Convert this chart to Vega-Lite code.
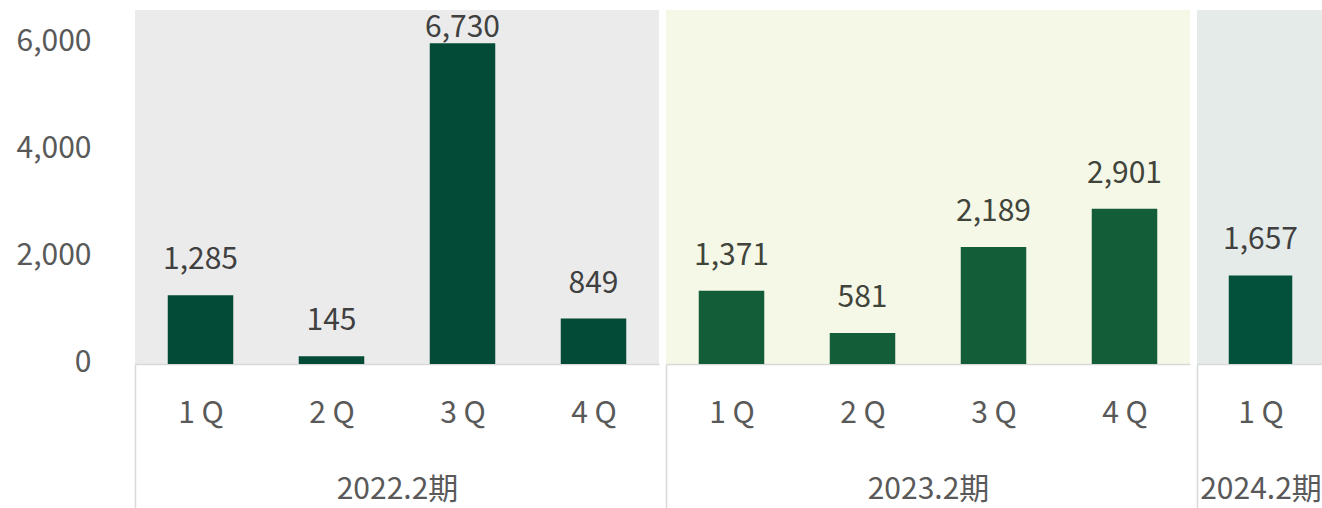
{
  "$schema": "https://vega.github.io/schema/vega-lite/v6.json",
  "padding": {"left": 16, "top": 10, "right": 0, "bottom": 0},
  "autosize": {"type": "pad"},
  "background": "white",
  "spacing": 6,
  "datasets": {
    "sales": [
      {"period": "2022.2期", "quarter": "1 Q", "bar": 1285, "label": 1285},
      {"period": "2022.2期", "quarter": "2 Q", "bar": 145, "label": 145},
      {"period": "2022.2期", "quarter": "3 Q", "bar": 6000, "label": 6730},
      {"period": "2022.2期", "quarter": "4 Q", "bar": 849, "label": 849},
      {"period": "2023.2期", "quarter": "1 Q", "bar": 1371, "label": 1371},
      {"period": "2023.2期", "quarter": "2 Q", "bar": 581, "label": 581},
      {"period": "2023.2期", "quarter": "3 Q", "bar": 2189, "label": 2189},
      {"period": "2023.2期", "quarter": "4 Q", "bar": 2901, "label": 2901},
      {"period": "2024.2期", "quarter": "1 Q", "bar": 1657, "label": 1657}
    ]
  },
  "config": {
    "font": "Noto Sans CJK JP, sans-serif",
    "axis": {"grid": false}
  },
  "hconcat": [
    {
      "width": 524,
      "height": 354,
      "view": {"fill": "#ebebeb", "stroke": null},
      "data": {"name": "sales"},
      "transform": [{"filter": "datum.period === '2022.2期'"}],
      "encoding": {
        "x": {
          "field": "quarter", "type": "nominal", "sort": null,
          "scale": {"paddingInner": 0.5, "paddingOuter": 0.25},
          "axis": {
            "title": "2022.2期", "titleFontSize": 30, "titleColor": "#595959", "titleFontWeight": "normal",
            "titleFont": "Noto Sans CJK JP, sans-serif",
            "titlePadding": 40, "minExtent": 70, "maxExtent": 70,
            "labelAngle": 0, "labelFontSize": 30, "labelColor": "#595959", "labelPadding": -110,
            "labelFont": "Noto Sans CJK JP, sans-serif", "labelOffset": 65.5,
            "domainColor": "#d9d9d9", "domainWidth": 1.5,
            "ticks": true, "tickSize": 144, "tickColor": "#d9d9d9", "tickWidth": 1.5, "tickOffset": -65.5,
            "tickOpacity": {"condition": {"test": "datum.value === '1 Q'", "value": 1}, "value": 0}
          }
        }
      },
      "layer": [
        {
          "mark": {"type": "bar", "color": "#034b36"},
          "encoding": {
            "y": {
              "field": "bar", "type": "quantitative",
              "scale": {"domain": [0, 6620], "nice": false},
              "axis": {
                "title": null, "values": [0, 2000, 4000, 6000], "format": ",.0f",
                "ticks": false, "domain": false, "grid": false,
                "labelFontSize": 30, "labelColor": "#595959", "labelPadding": 44, "labelOffset": -2,
                "labelFont": "Noto Sans CJK JP, sans-serif"
              }
            }
          }
        },
        {
          "mark": {
            "type": "text", "fontSize": 30, "color": "#404040", "baseline": "alphabetic",
            "font": "Noto Sans CJK JP, sans-serif",
            "dy": {"expr": "datum.label > datum.bar ? -6 : -26"}
          },
          "encoding": {
            "y": {"field": "bar", "type": "quantitative"},
            "text": {"field": "label", "type": "quantitative", "format": ",.0f"}
          }
        }
      ]
    },
    {
      "width": 524,
      "height": 354,
      "view": {"fill": "#f5f8e7", "stroke": null},
      "data": {"name": "sales"},
      "transform": [{"filter": "datum.period === '2023.2期'"}],
      "encoding": {
        "x": {
          "field": "quarter", "type": "nominal", "sort": null,
          "scale": {"paddingInner": 0.5, "paddingOuter": 0.25},
          "axis": {
            "title": "2023.2期", "titleFontSize": 30, "titleColor": "#595959", "titleFontWeight": "normal",
            "titleFont": "Noto Sans CJK JP, sans-serif",
            "titlePadding": 40, "minExtent": 70, "maxExtent": 70,
            "labelAngle": 0, "labelFontSize": 30, "labelColor": "#595959", "labelPadding": -110,
            "labelFont": "Noto Sans CJK JP, sans-serif", "labelOffset": 65.5,
            "domainColor": "#d9d9d9", "domainWidth": 1.5,
            "ticks": true, "tickSize": 144, "tickColor": "#d9d9d9", "tickWidth": 1.5, "tickOffset": -65.5,
            "tickOpacity": {"condition": {"test": "datum.value === '1 Q'", "value": 1}, "value": 0}
          }
        }
      },
      "layer": [
        {
          "mark": {"type": "bar", "color": "#135e38"},
          "encoding": {
            "y": {
              "field": "bar", "type": "quantitative",
              "scale": {"domain": [0, 6620], "nice": false},
              "axis": null
            }
          }
        },
        {
          "mark": {
            "type": "text", "fontSize": 30, "color": "#40443a", "baseline": "alphabetic",
            "font": "Noto Sans CJK JP, sans-serif",
            "dy": {"expr": "datum.label > datum.bar ? -6 : -26"}
          },
          "encoding": {
            "y": {"field": "bar", "type": "quantitative"},
            "text": {"field": "label", "type": "quantitative", "format": ",.0f"}
          }
        }
      ]
    },
    {
      "width": 127,
      "height": 354,
      "view": {"fill": "#e5ebe9", "stroke": null},
      "data": {"name": "sales"},
      "transform": [{"filter": "datum.period === '2024.2期'"}],
      "encoding": {
        "x": {
          "field": "quarter", "type": "nominal", "sort": null,
          "scale": {"paddingInner": 0.5, "paddingOuter": 0.25},
          "axis": {
            "title": "2024.2期", "titleFontSize": 30, "titleColor": "#595959", "titleFontWeight": "normal",
            "titleFont": "Noto Sans CJK JP, sans-serif", "titleLimit": 0,
            "titlePadding": 40, "minExtent": 70, "maxExtent": 70,
            "labelAngle": 0, "labelFontSize": 30, "labelColor": "#595959", "labelPadding": -110,
            "labelFont": "Noto Sans CJK JP, sans-serif", "labelOffset": 63.5,
            "domainColor": "#d9d9d9", "domainWidth": 1.5,
            "ticks": true, "tickSize": 144, "tickColor": "#d9d9d9", "tickWidth": 1.5, "tickOffset": -63.5,
            "tickOpacity": {"condition": {"test": "datum.value === '1 Q'", "value": 1}, "value": 0}
          }
        }
      },
      "layer": [
        {
          "mark": {"type": "bar", "color": "#03503b"},
          "encoding": {
            "y": {
              "field": "bar", "type": "quantitative",
              "scale": {"domain": [0, 6620], "nice": false},
              "axis": null
            }
          }
        },
        {
          "mark": {
            "type": "text", "fontSize": 30, "color": "#404040", "baseline": "alphabetic",
            "font": "Noto Sans CJK JP, sans-serif",
            "dy": {"expr": "datum.label > datum.bar ? -6 : -26"}
          },
          "encoding": {
            "y": {"field": "bar", "type": "quantitative"},
            "text": {"field": "label", "type": "quantitative", "format": ",.0f"}
          }
        }
      ]
    }
  ]
}
